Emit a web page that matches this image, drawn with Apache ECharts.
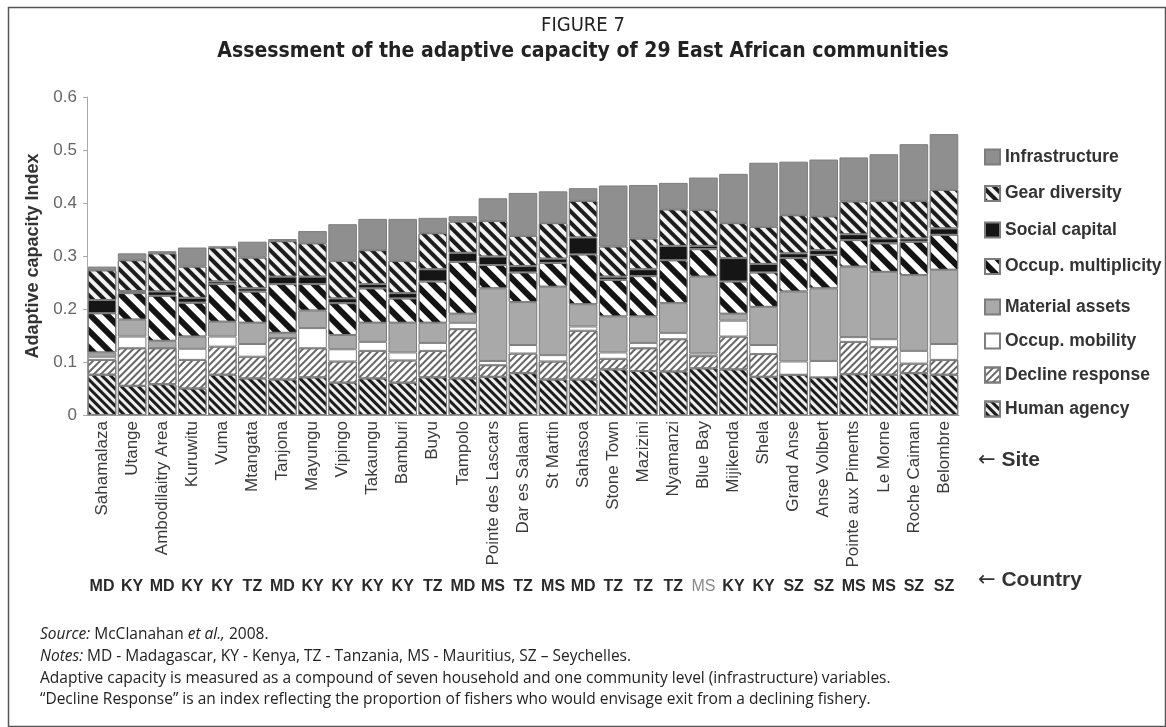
<!DOCTYPE html>
<html>
<head>
<meta charset="utf-8">
<script src="https://cdn.jsdelivr.net/npm/echarts@6/dist/echarts.min.js"></script>
<style>
html,body{margin:0;padding:0;background:#fff;}
#chart{width:1166px;height:727px;}
</style>
</head>
<body>
<div id="chart"></div>
<script>
const sites = ['Sahamalaza','Utange','Ambodilaitry Area','Kuruwitu','Vuma','Mtangata','Tanjona','Mayungu','Vipingo','Takaungu','Bamburi','Buyu','Tampolo','Pointe des Lascars','Dar es Salaam','St Martin','Sahasoa','Stone Town','Mazizini','Nyamanzi','Blue Bay','Mijikenda','Shela','Grand Anse','Anse Volbert','Pointe aux Piments','Le Morne','Roche Caiman','Belombre'];
const countries = ['MD','KY','MD','KY','KY','TZ','MD','KY','KY','KY','KY','TZ','MD','MS','TZ','MS','MD','TZ','TZ','TZ','MS','KY','KY','SZ','SZ','MS','MS','SZ','SZ'];
const yTicks = [0, 0.1, 0.2, 0.3, 0.4, 0.5, 0.6];

const humanAgency = [0.076,0.055,0.058,0.050,0.076,0.069,0.067,0.071,0.061,0.069,0.061,0.071,0.069,0.072,0.079,0.067,0.067,0.086,0.083,0.082,0.088,0.086,0.072,0.076,0.071,0.077,0.076,0.079,0.076];
const declineResponse = [0.028,0.071,0.068,0.054,0.053,0.041,0.078,0.055,0.040,0.052,0.042,0.050,0.093,0.022,0.037,0.034,0.092,0.020,0.043,0.061,0.023,0.062,0.043,0,0,0.061,0.052,0.018,0.028];
const occupMobility = [0.006,0.022,0,0.021,0.019,0.024,0,0.038,0.023,0.017,0.015,0.015,0.012,0.008,0.016,0.012,0.008,0.012,0.010,0.012,0.005,0.030,0.017,0.025,0.031,0.009,0.015,0.024,0.030];
const materialAssets = [0.008,0.032,0.014,0.023,0.028,0.040,0.010,0.033,0.027,0.036,0.056,0.038,0.017,0.137,0.081,0.129,0.042,0.068,0.050,0.056,0.145,0.013,0.072,0.132,0.137,0.133,0.127,0.143,0.140];
const occupMultiplicity = [0.074,0.050,0.085,0.064,0.071,0.059,0.092,0.050,0.060,0.065,0.046,0.078,0.098,0.044,0.056,0.045,0.094,0.069,0.076,0.081,0.052,0.061,0.065,0.063,0.063,0.050,0.054,0.063,0.066];
const socialCapital = [0.025,0.004,0.008,0.009,0.005,0.006,0.014,0.014,0.009,0.008,0.010,0.023,0.017,0.016,0.012,0.008,0.032,0.006,0.013,0.027,0.006,0.044,0.016,0.009,0.009,0.011,0.009,0.006,0.012];
const gearDiversity = [0.056,0.058,0.072,0.059,0.064,0.058,0.067,0.063,0.071,0.064,0.061,0.068,0.059,0.067,0.057,0.067,0.069,0.057,0.058,0.069,0.068,0.066,0.070,0.072,0.064,0.062,0.071,0.071,0.073];
const infrastructure = [0.007,0.013,0.004,0.036,0.002,0.030,0.004,0.023,0.069,0.059,0.079,0.029,0.010,0.043,0.081,0.060,0.024,0.115,0.101,0.050,0.061,0.093,0.121,0.101,0.107,0.083,0.088,0.107,0.105];

const mutedCountry = [20];

const ROT = Math.PI / 4;
function stripes(color, on, off, rot) {
  return {symbol:'rect', symbolSize:1, dashArrayX:[1,0], dashArrayY:[on, off], rotation:rot, color:color};
}
function mk(name, data, color, decal) {
  return {
    name: name, type: 'bar', stack: 'total', data: data,
    barCategoryGap: '5%',
    itemStyle: {color: color, borderColor: '#7d7d7d', borderWidth: 1, decal: decal || null},
    emphasis: {disabled: true}
  };
}

const chart = echarts.init(document.getElementById('chart'), null, {renderer: 'canvas'});
const narrow = "'Liberation Sans Narrow','DejaVu Sans Condensed',sans-serif";
const arial = "'Liberation Sans', Arial, sans-serif";
const legendText = {fontFamily: arial, fontWeight: 'bold', fontSize: 17.5, color: '#333'};
const option = {
  animation: false,
  backgroundColor: '#fff',
  grid: {left: 87, right: 207, top: 97, bottom: 312, containLabel: false},
  legend: [
    {orient: 'vertical', left: 979, top: 143, itemWidth: 15, itemHeight: 15, itemGap: 18.5, icon: 'rect',
     data: ['Infrastructure','Gear diversity','Social capital','Occup. multiplicity'], textStyle: legendText},
    {orient: 'vertical', left: 979, top: 293, itemWidth: 15, itemHeight: 15, itemGap: 16, icon: 'rect',
     data: ['Material assets','Occup. mobility','Decline response','Human agency'], textStyle: legendText}
  ],
  xAxis: [
    {type: 'category', data: sites, position: 'bottom',
     axisLine: {lineStyle: {color: '#999'}}, axisTick: {length: 4, lineStyle: {color: '#999'}},
     axisLabel: {rotate: 90, interval: 0, fontSize: 17, color: '#3a3a3a', margin: 6, fontFamily: arial}},
    {type: 'category', position: 'bottom', offset: 160,
     data: countries.map((c, i) => mutedCountry.includes(i) ? {value: c, textStyle: {color: '#888', fontWeight: 'normal'}} : c),
     axisLine: {show: false}, axisTick: {show: false},
     axisLabel: {interval: 0, fontSize: 16, fontWeight: 'bold', color: '#2a2a2a', margin: 4, fontFamily: arial}}
  ],
  yAxis: {
    type: 'value', min: yTicks[0], max: yTicks[yTicks.length - 1], interval: 0.1,
    splitLine: {show: false},
    axisLine: {show: true, lineStyle: {color: '#aaa'}},
    axisTick: {show: true, length: 4, lineStyle: {color: '#aaa'}},
    axisLabel: {color: '#666', fontSize: 17, margin: 10, fontFamily: arial,
      formatter: v => String(Math.round(v * 10) / 10)},
    name: 'Adaptive capacity Index', nameLocation: 'middle', nameGap: 45,
    nameTextStyle: {fontWeight: 'bold', fontSize: 18, color: '#333', fontFamily: arial}
  },
  series: [
    mk('Human agency', humanAgency, '#eeeeee', stripes('#1c1c1c', 3, 3, ROT)),
    mk('Decline response', declineResponse, '#ffffff', stripes('#666666', 1.3, 3, -ROT)),
    mk('Occup. mobility', occupMobility, '#ffffff'),
    mk('Material assets', materialAssets, '#a9a9a9'),
    mk('Occup. multiplicity', occupMultiplicity, '#ffffff', stripes('#141414', 6, 6, ROT)),
    mk('Social capital', socialCapital, '#151515'),
    mk('Gear diversity', gearDiversity, '#f2f2f2', stripes('#1c1c1c', 3.5, 4, ROT)),
    mk('Infrastructure', infrastructure, '#8f8f8f')
  ],
  graphic: [
    {type: 'rect', left: 6, top: 5, shape: {width: 1157, height: 719}, style: {fill: 'none', stroke: '#555', lineWidth: 1.5}, silent: true},
    {type: 'text', left: 'center', top: 16, style: {text: 'FIGURE 7', font: "20px " + narrow, fill: '#222'}},
    {type: 'text', left: 'center', top: 41, style: {text: 'Assessment of the adaptive capacity of 29 East African communities', font: "bold 21px " + narrow, fill: '#222'}},
    {type: 'text', left: 978, top: 450, style: {text: '{a|\u2190} Site', font: "bold 21px " + arial, fill: '#333',
      rich: {a: {fontFamily: "'DejaVu Sans', sans-serif", fontSize: 21, fill: '#333'}}}},
    {type: 'text', left: 978, top: 570, style: {text: '{a|\u2190} Country', font: "bold 21px " + arial, fill: '#333',
      rich: {a: {fontFamily: "'DejaVu Sans', sans-serif", fontSize: 21, fill: '#333'}}}},
    {type: 'text', left: 40, top: 624, style: {
      text: '{i|Source:} McClanahan {i|et al.,} 2008.\n{i|Notes:} MD - Madagascar, KY - Kenya, TZ - Tanzania, MS - Mauritius, SZ \u2013 Seychelles.\nAdaptive capacity is measured as a compound of seven household and one community level (infrastructure) variables.\n\u201cDecline Response\u201d is an index reflecting the proportion of fishers who would envisage exit from a declining fishery.',
      font: "15.5px 'Open Sans', sans-serif", fill: '#222', lineHeight: 21.7,
      rich: {i: {fontStyle: 'italic', fontFamily: "'Open Sans', sans-serif", fontSize: 15.5, fill: '#222', lineHeight: 21.7}}
    }}
  ]
};
chart.setOption(option);
</script>
</body>
</html>
